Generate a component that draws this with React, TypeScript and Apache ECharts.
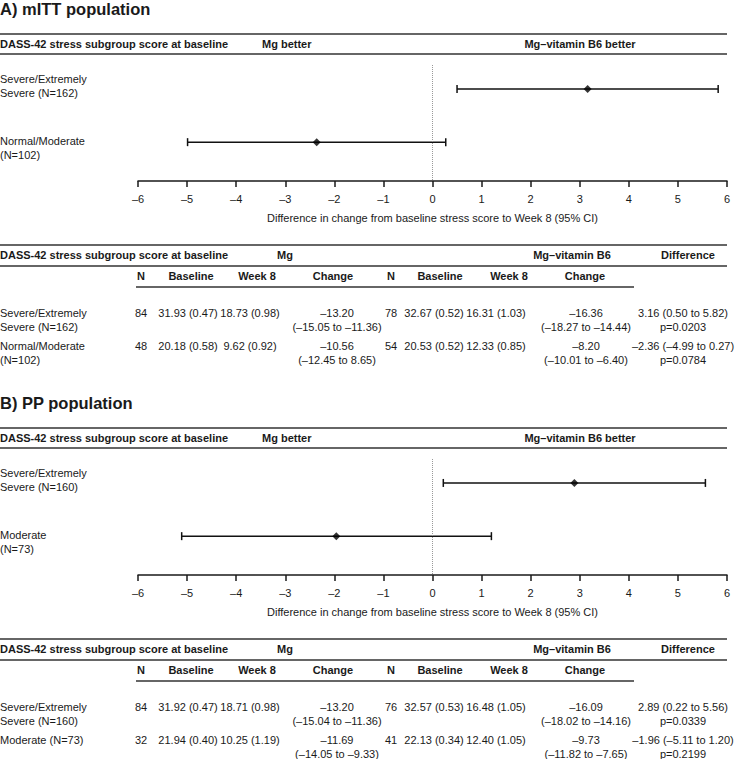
import React, { useEffect, useRef } from "react";
import * as echarts from "echarts";

const FONT = "'Liberation Sans', Arial, Helvetica, sans-serif";
const INK = "#1a1a1a";
const RULE = "#333333";

// ---------- shared text ----------
const headerSubgroup = "DASS-42 stress subgroup score at baseline";
const leftBetter = "Mg better";
const rightBetter = "Mg–vitamin B6 better";
const axisTitle = "Difference in change from baseline stress score to Week 8 (95% CI)";
const groupHeaders = ["Mg", "Mg–vitamin B6", "Difference"];
const subHeaders = ["N", "Baseline", "Week 8", "Change", "N", "Baseline", "Week 8", "Change"];
const xTicks = [-6, 6, 1]; // min, max, interval

// ---------- Panel A: mITT ----------
const A_title = "A) mITT population";
const A_plotLabels = [["Severe/Extremely", "Severe (N=162)"], ["Normal/Moderate", "(N=102)"]];
const A_tableLabels = [["Severe/Extremely", "Severe (N=162)"], ["Normal/Moderate", "(N=102)"]];
const A_est = [3.16, -2.36];
const A_lo = [0.5, -4.99];
const A_hi = [5.82, 0.27];
const A_p = ["p=0.0203", "p=0.0784"];
const A_mgN = ["84", "48"];
const A_mgBaseline = ["31.93 (0.47)", "20.18 (0.58)"];
const A_mgWeek8 = ["18.73 (0.98)", "9.62 (0.92)"];
const A_mgChange = ["–13.20", "–10.56"];
const A_mgChangeCI = ["(–15.05 to –11.36)", "(–12.45 to 8.65)"];
const A_b6N = ["78", "54"];
const A_b6Baseline = ["32.67 (0.52)", "20.53 (0.52)"];
const A_b6Week8 = ["16.31 (1.03)", "12.33 (0.85)"];
const A_b6Change = ["–16.36", "–8.20"];
const A_b6ChangeCI = ["(–18.27 to –14.44)", "(–10.01 to –6.40)"];

// ---------- Panel B: PP ----------
const B_title = "B) PP population";
const B_plotLabels = [["Severe/Extremely", "Severe (N=160)"], ["Moderate", "(N=73)"]];
const B_tableLabels = [["Severe/Extremely", "Severe (N=160)"], ["Moderate (N=73)"]];
const B_est = [2.89, -1.96];
const B_lo = [0.22, -5.11];
const B_hi = [5.56, 1.2];
const B_p = ["p=0.0339", "p=0.2199"];
const B_mgN = ["84", "32"];
const B_mgBaseline = ["31.92 (0.47)", "21.94 (0.40)"];
const B_mgWeek8 = ["18.71 (0.98)", "10.25 (1.19)"];
const B_mgChange = ["–13.20", "–11.69"];
const B_mgChangeCI = ["(–15.04 to –11.36)", "(–14.05 to –9.33)"];
const B_b6N = ["76", "41"];
const B_b6Baseline = ["32.57 (0.53)", "22.13 (0.34)"];
const B_b6Week8 = ["16.48 (1.05)", "12.40 (1.05)"];
const B_b6Change = ["–16.09", "–9.73"];
const B_b6ChangeCI = ["(–18.02 to –14.16)", "(–11.82 to –7.65)"];

const fmt = (v: number) => (v < 0 ? "–" + Math.abs(v).toFixed(2) : v.toFixed(2));

type PanelData = {
  title: string;
  plotLabels: string[][];
  tableLabels: string[][];
  est: number[];
  lo: number[];
  hi: number[];
  p: string[];
  cols: string[][];
  mgChange: string[];
  mgChangeCI: string[];
  b6Change: string[];
  b6ChangeCI: string[];
};

const panels: PanelData[] = [
  {
    title: A_title, plotLabels: A_plotLabels, tableLabels: A_tableLabels,
    est: A_est, lo: A_lo, hi: A_hi, p: A_p,
    cols: [A_mgN, A_mgBaseline, A_mgWeek8, A_b6N, A_b6Baseline, A_b6Week8],
    mgChange: A_mgChange, mgChangeCI: A_mgChangeCI, b6Change: A_b6Change, b6ChangeCI: A_b6ChangeCI,
  },
  {
    title: B_title, plotLabels: B_plotLabels, tableLabels: B_tableLabels,
    est: B_est, lo: B_lo, hi: B_hi, p: B_p,
    cols: [B_mgN, B_mgBaseline, B_mgWeek8, B_b6N, B_b6Baseline, B_b6Week8],
    mgChange: B_mgChange, mgChangeCI: B_mgChangeCI, b6Change: B_b6Change, b6ChangeCI: B_b6ChangeCI,
  },
];

// ---------- layout ----------
const PANEL_DY = 394;
const GRID_TOP = 65;
const GRID_H = 116;
const FULL_W = 727;
const SUB_X = [141, 191, 257, 333, 391, 440, 509, 585];
const COL_X = [141, 188, 250, 391, 434, 496];
const MG_CHANGE_X = 337;
const B6_CHANGE_X = 586;
const DIFF_X = 683;

function txt(x: number, y: number, text: string, opt: any = {}) {
  return {
    type: "text",
    x,
    y,
    silent: true,
    style: {
      text,
      fontFamily: FONT,
      fontSize: opt.size || 11,
      fontWeight: opt.bold ? "bold" : "normal",
      fill: INK,
      align: opt.align || "left",
      verticalAlign: "middle",
    },
  };
}

function rule(x1: number, x2: number, y: number, w = 1.6) {
  return {
    type: "line",
    silent: true,
    shape: { x1, y1: y, x2, y2: y },
    style: { stroke: RULE, lineWidth: w },
  };
}

function panelGraphics(d: PanelData, dy: number) {
  const g: any[] = [];
  g.push(txt(0, 9 + dy, d.title, { size: 16.5, bold: true }));
  g.push(rule(0, FULL_W, 34 + dy));
  g.push(txt(0, 44 + dy, headerSubgroup, { bold: true }));
  g.push(txt(262, 44 + dy, leftBetter, { bold: true }));
  g.push(txt(580, 44 + dy, rightBetter, { bold: true, align: "center" }));
  g.push(rule(0, FULL_W, 54 + dy));
  const plotRowY = [79, 141];
  d.plotLabels.forEach((lines, i) => {
    lines.forEach((l, k) => g.push(txt(0, plotRowY[i] + k * 13.5 + dy, l)));
  });

  // table
  g.push(rule(0, FULL_W, 245 + dy));
  g.push(txt(0, 255 + dy, headerSubgroup, { bold: true }));
  g.push(txt(285, 255 + dy, groupHeaders[0], { bold: true, align: "center" }));
  g.push(txt(572, 255 + dy, groupHeaders[1], { bold: true, align: "center" }));
  g.push(txt(688, 255 + dy, groupHeaders[2], { bold: true, align: "center" }));
  g.push(rule(0, FULL_W, 266 + dy));
  subHeaders.forEach((h, i) => g.push(txt(SUB_X[i], 276 + dy, h, { bold: true, align: "center" })));
  g.push(rule(136, 634, 287 + dy));

  const rowY = [313, 346];
  for (let i = 0; i < 2; i++) {
    const y1 = rowY[i] + dy;
    const y2 = y1 + 14;
    d.tableLabels[i].forEach((l, k) => g.push(txt(0, y1 + k * 14, l)));
    d.cols.forEach((col, c) => g.push(txt(COL_X[c], y1, col[i], { align: "center" })));
    g.push(txt(MG_CHANGE_X, y1, d.mgChange[i], { align: "center" }));
    g.push(txt(MG_CHANGE_X, y2, d.mgChangeCI[i], { align: "center" }));
    g.push(txt(B6_CHANGE_X, y1, d.b6Change[i], { align: "center" }));
    g.push(txt(B6_CHANGE_X, y2, d.b6ChangeCI[i], { align: "center" }));
    g.push(txt(DIFF_X, y1, `${fmt(d.est[i])} (${fmt(d.lo[i])} to ${fmt(d.hi[i])})`, { align: "center" }));
    g.push(txt(DIFF_X, y2, d.p[i], { align: "center" }));
  }
  return g;
}

export default function App() {
  const ref = useRef<HTMLDivElement>(null);
  useEffect(() => {
    if (!ref.current) return;
    const chart = echarts.init(ref.current, undefined, { renderer: "svg" });
    const grids = panels.map((_, i) => ({
      left: 138,
      right: 735 - FULL_W,
      top: GRID_TOP + i * PANEL_DY,
      height: GRID_H,
      containLabel: false,
    }));
    const xAxes = panels.map((_, i) => ({
      type: "value",
      gridIndex: i,
      min: xTicks[0],
      max: xTicks[1],
      interval: xTicks[2],
      splitLine: { show: false },
      axisLine: { show: true, lineStyle: { color: INK, width: 1.5 } },
      axisTick: { show: true, length: 6, lineStyle: { color: INK, width: 1.5 } },
      axisLabel: {
        fontFamily: FONT,
        fontSize: 11,
        color: INK,
        margin: 12,
        formatter: (v: number) => (v < 0 ? "–" + Math.abs(v) : String(v)),
      },
      name: axisTitle,
      nameLocation: "middle",
      nameGap: 31,
      nameTextStyle: { fontFamily: FONT, fontSize: 11, color: INK },
    }));
    const yAxes = panels.map((_, i) => ({
      type: "value",
      gridIndex: i,
      inverse: true,
      min: 0.55,
      max: 2.73,
      show: false,
    }));
    const series: any[] = [];
    panels.forEach((d, i) => {
      series.push({
        type: "custom",
        xAxisIndex: i,
        yAxisIndex: i,
        silent: true,
        encode: { x: [0, 1], y: 2 },
        data: d.est.map((_, k) => [d.lo[k], d.hi[k], k + 1]),
        renderItem: (_p: any, api: any) => {
          const lo = api.value(0);
          const hi = api.value(1);
          const y = api.value(2);
          const p1 = api.coord([lo, y]);
          const p2 = api.coord([hi, y]);
          const st = { stroke: "#111", lineWidth: 1.5 };
          return {
            type: "group",
            children: [
              { type: "line", shape: { x1: p1[0], y1: p1[1], x2: p2[0], y2: p2[1] }, style: st },
              { type: "line", shape: { x1: p1[0], y1: p1[1] - 4, x2: p1[0], y2: p1[1] + 4 }, style: st },
              { type: "line", shape: { x1: p2[0], y1: p2[1] - 4, x2: p2[0], y2: p2[1] + 4 }, style: st },
            ],
          };
        },
        z: 2,
      });
      series.push({
        type: "scatter",
        xAxisIndex: i,
        yAxisIndex: i,
        silent: true,
        symbol: "diamond",
        symbolSize: 8,
        itemStyle: { color: "#000" },
        data: d.est.map((e, k) => [e, k + 1]),
        z: 3,
        markLine: {
          silent: true,
          symbol: ["none", "none"],
          label: { show: false },
          lineStyle: { type: "dotted", color: "#999", width: 1 },
          data: [{ xAxis: 0 }],
        },
      });
    });
    const graphic: any[] = [];
    panels.forEach((d, i) => graphic.push(...panelGraphics(d, i * PANEL_DY)));

    chart.setOption({
      animation: false,
      backgroundColor: "#ffffff",
      grid: grids,
      xAxis: xAxes,
      yAxis: yAxes,
      series,
      graphic,
    });
    return () => chart.dispose();
  }, []);
  return (
    <div
      ref={ref}
      style={{ position: "absolute", left: 0, top: 0, width: 735, height: 759 }}
    />
  );
}
